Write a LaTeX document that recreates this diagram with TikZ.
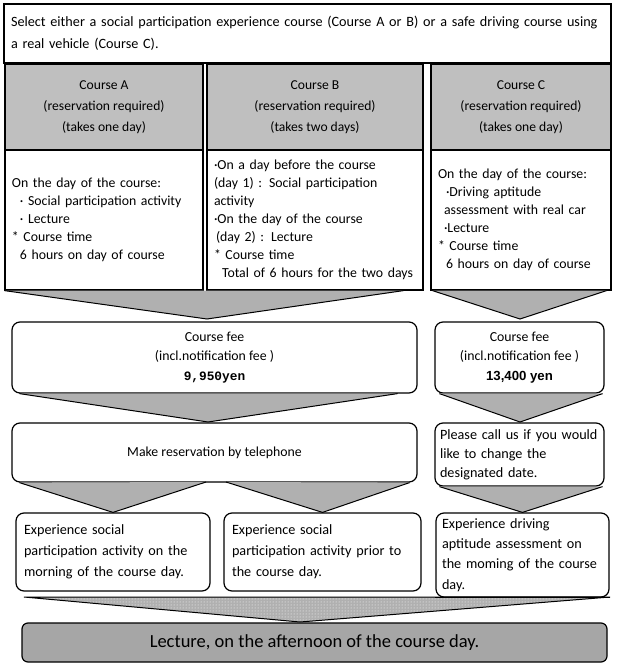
\documentclass[tikz,border=0pt]{standalone}
\usepackage{fontspec}
\setmainfont{Carlito}
\newfontfamily\monofee{Liberation Mono}
\newfontfamily\sansfee{Liberation Sans}
\usetikzlibrary{calc,patterns}
\definecolor{hdrgray}{gray}{0.75}
\definecolor{arrgray}{gray}{0.69}
\definecolor{lecgray}{gray}{0.65}

\tikzset{
  panel/.style={draw=black, line width=1.2pt, inner sep=0pt},
  hdrbox/.style={panel, fill=hdrgray, align=center, font=\fontsize{13.6}{21}\selectfont},
  txtbox/.style={panel, fill=white, align=left, inner xsep=7pt, font=\fontsize{13.8}{18}\selectfont},
  roundbox/.style={panel, fill=white, rounded corners=8pt},
  chev/.style={draw=black, line width=1pt, fill=arrgray},
}

\begin{document}
\begin{tikzpicture}[x=1pt,y=-1pt]
  \useasboundingbox (0,0) rectangle (618,668);

  % heading
  \node[txtbox, text width=593pt, minimum height=59pt, font=\fontsize{14.2}{22}\selectfont]
    (intro) at (307.5,33.5) {Select either a social participation experience course (Course A or B) or a safe driving course using\\a real vehicle (Course C).};

  % the three courses
  \node[hdrbox, minimum width=198pt, minimum height=86pt] (hdrA) at (104,107)
    {Course A\\(reservation required)\\(takes one day)};
  \node[hdrbox, minimum width=216pt, minimum height=86pt] (hdrB) at (315,107)
    {Course B\\(reservation required)\\(takes two days)};
  \node[hdrbox, minimum width=180pt, minimum height=86pt] (hdrC) at (521,107)
    {Course C\\(reservation required)\\(takes one day)};

  \node[txtbox, text width=184pt, minimum height=140pt] (bodyA) at (104,220)
    {On the day of the course:\\
     \hspace*{8pt}· Social participation activity\\
     \hspace*{8pt}· Lecture\\{}
     * Course time\\
     \hspace*{8pt}6 hours on day of course};
  \node[txtbox, text width=202pt, minimum height=140pt] (bodyB) at (315,220)
    {·On a day  before  the course\\
     (day 1) : Social participation\\
     activity\\
     ·On the  day of the course\\
     \hspace*{2pt}(day 2) : Lecture\\{}
     * Course time\\
     \hspace*{8pt}Total of 6 hours for the two days};
  \node[txtbox, text width=166pt, minimum height=140pt] (bodyC) at (521,220)
    {On the day of the course:\\
     \hspace*{8pt}·Driving aptitude\\
     \hspace*{6pt}assessment with real car\\
     \hspace*{6pt}·Lecture\\{}
     * Course time\\
     \hspace*{8pt}6 hours on day of course};

  % arrows down to the fees
  \coordinate (tipAB) at (207,319);
  \coordinate (tipC)  at (520,319);
  \draw[chev] (bodyA.south west) -- (tipAB) -- ($(bodyB.south east)+(-20,0)$);
  \draw[chev] ($(bodyC.south west)+(2,0)$) -- (tipC) -- ($(bodyC.south east)+(-5,0)$);

  \node[roundbox, minimum width=405pt, minimum height=71pt, align=center,
        font=\fontsize{13.8}{19.5}\selectfont] (feeA) at (214.5,357.5)
    {Course fee\\(incl.notification fee )\\{\monofee\bfseries\fontsize{12.8}{19.5}\selectfont 9,950yen}};
  \node[roundbox, minimum width=169pt, minimum height=71pt, align=center,
        font=\fontsize{13.8}{19.5}\selectfont] (feeC) at (519.5,357.5)
    {Course fee\\(incl.notification fee )\\{\sansfee\bfseries\fontsize{13.2}{19.5}\selectfont 13,400 yen}};

  \coordinate (tipRes)  at (208,422);
  \coordinate (tipCall) at (520,422);
  \draw[chev] ($(feeA.south west)+(8,0)$) -- (tipRes) -- ($(feeA.south east)+(-20,0)$);
  \draw[chev] ($(feeC.south west)+(5,0)$) -- (tipCall) -- ($(feeC.south east)+(-2,0)$);

  \node[roundbox, minimum width=405pt, minimum height=59pt, align=center,
        font=\fontsize{13.8}{19}\selectfont] (resv) at (214.5,452.5)
    {Make reservation by telephone};
  \node[roundbox, minimum width=169pt, minimum height=63pt, align=left, inner xsep=5pt,
        text width=159pt, font=\fontsize{14.2}{19}\selectfont] (call) at (519.5,454.5)
    {Please call us if you would\\like to change the\\designated date.};

  % morning experiences
  \node[roundbox, minimum width=194pt, minimum height=78pt, align=left, inner xsep=8pt,
        text width=178pt, font=\fontsize{14.2}{21}\selectfont] (expA) at (113,552)
    {Experience social\\participation activity on the\\morning of the course day.};
  \node[roundbox, minimum width=197pt, minimum height=78pt, align=left, inner xsep=8pt,
        text width=181pt, font=\fontsize{14.2}{21}\selectfont] (expB) at (322.5,552)
    {Experience social\\participation activity prior to\\the course day.};
  \node[roundbox, minimum width=173pt, minimum height=84pt, align=left, inner xsep=6pt,
        text width=161pt, font=\fontsize{14.2}{20.3}\selectfont] (expC) at (522.5,555)
    {Experience driving\\aptitude assessment on\\the moming of the course\\day.};

  \draw[chev] ($(resv.south west)+(8,0)$) -- (expA.north) -- (206,482);
  \draw[chev] (226,482) -- (expB.north) -- ($(resv.south east)+(-8,0)$);
  \draw[chev] ($(call.south west)+(5,0)$) -- (expC.north) -- ($(call.south east)+(-2,0)$);

  % afternoon lecture
  \node[panel, rounded corners=6pt, fill=lecgray, minimum width=585pt, minimum height=39pt,
        font=\fontsize{18.5}{20}\selectfont] (lect) at (314.5,642.5)
    {Lecture, on the afternoon of the course day.};

  \coordinate (tipLect) at (300,622);
  \fill[arrgray] (24,597) -- (tipLect) -- (610,597) -- cycle;
  \fill[pattern=dots, pattern color=white] (24,597) -- (tipLect) -- (610,597) -- cycle;
  \draw[line width=1pt] (24,597) -- (tipLect) -- (610,597) -- cycle;
  \draw[panel, rounded corners=8pt] (expC.south west) -- (expC.south east);
\end{tikzpicture}
\end{document}
